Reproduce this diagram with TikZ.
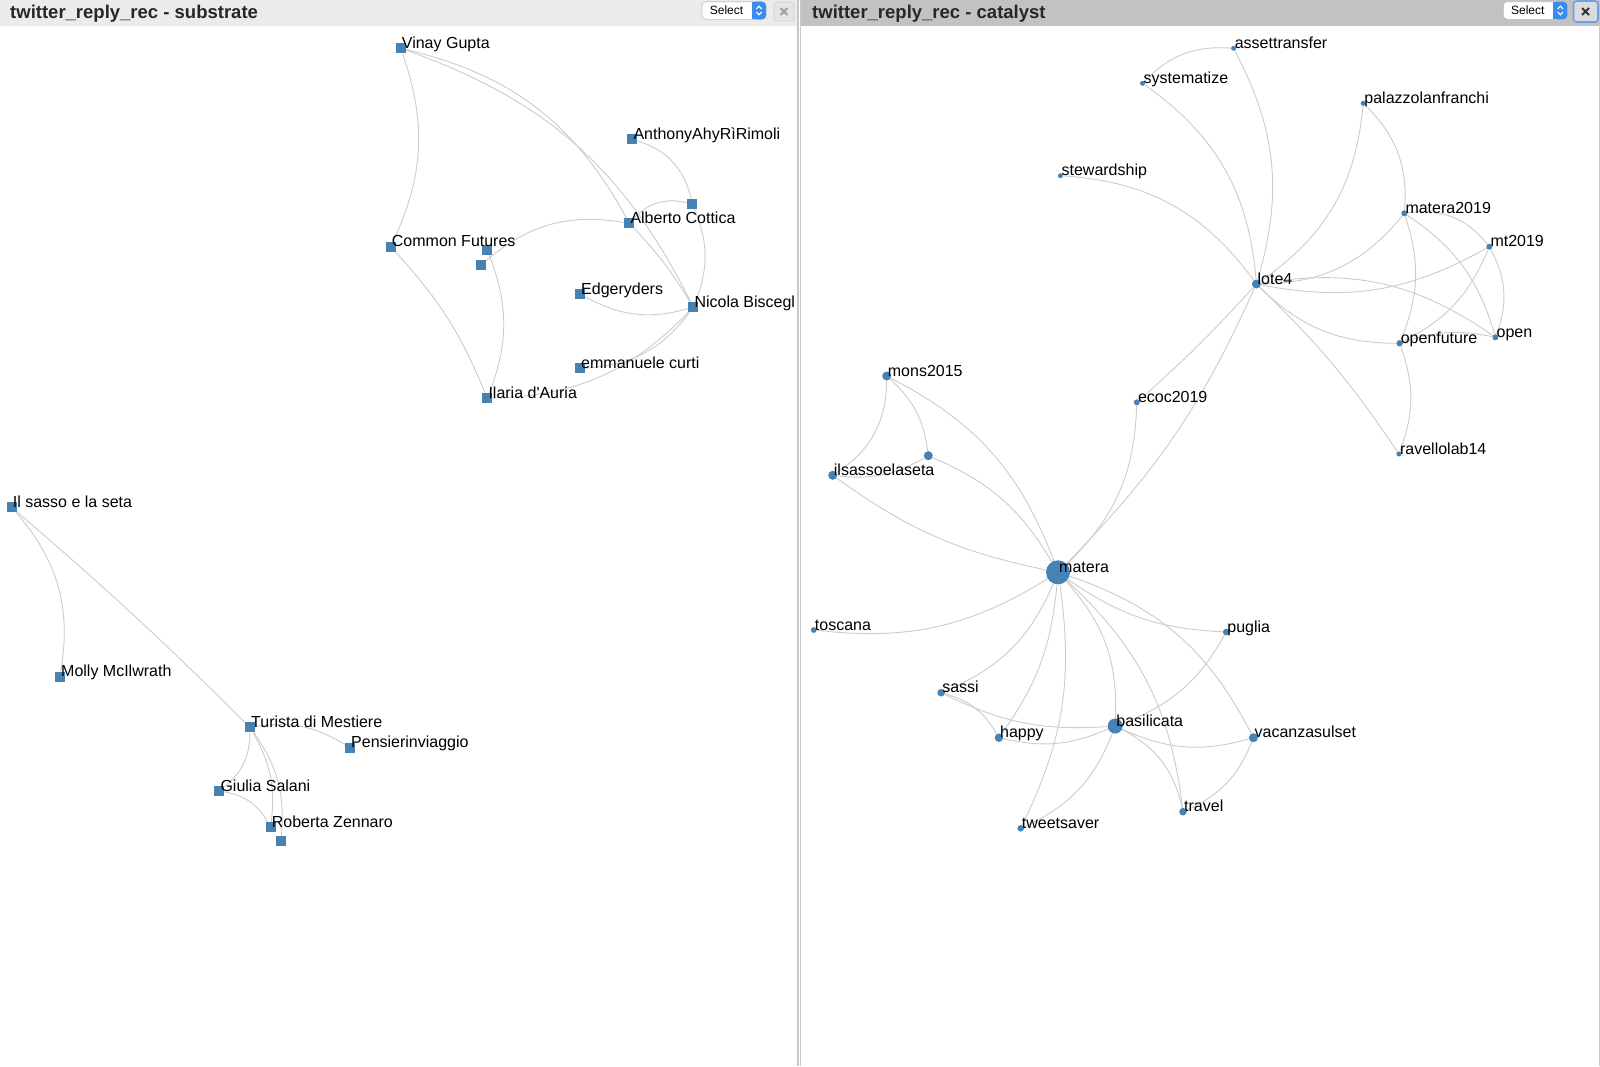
\documentclass[tikz,border=0pt]{standalone}
\usepackage{fontspec}
\setmainfont{Liberation Sans}
\definecolor{nodeblue}{HTML}{4682B4}
\definecolor{edgegrey}{HTML}{CCCCCC}
\definecolor{hdrL}{HTML}{EBEBEB}
\definecolor{hdrR}{HTML}{C2C2C2}
\definecolor{selblue}{HTML}{3A8AF0}
\definecolor{sepgrey}{HTML}{C8C8C8}
\pgfdeclarelayer{back}
\pgfdeclarelayer{edges}
\pgfsetlayers{back,edges,main}
\tikzset{
  sq/.style={rectangle, fill=nodeblue, minimum size=10pt, inner sep=0pt},
  cnode/.style={circle, fill=nodeblue, inner sep=0pt, minimum size=#1},
  lab/.style={anchor=base west, inner sep=0pt, font=\fontsize{16}{19}\selectfont, text=black, xshift=1pt},
  lk/.style={draw=edgegrey, line width=0.9pt},
  ttl/.style={anchor=base west, inner sep=0pt, font=\fontsize{18.5}{21}\selectfont\bfseries, text=black!85},
  seltxt/.style={inner sep=0pt, font=\fontsize{12}{14}\selectfont, text=black},
}
\begin{document}
\begin{tikzpicture}[x=1pt,y=1pt]
\useasboundingbox (0,0) rectangle (1600,-1066);
\begin{pgfonlayer}{back}
\fill[white] (0,0) rectangle (1600,-1066);
\end{pgfonlayer}

% ---------------- substrate nodes ----------------
\node[sq] (VG) at (400.7,-48.3) {};
\node[sq] (AA) at (632.3,-139.3) {};
\node[sq] (S1) at (692.3,-204) {};
\node[sq] (AC) at (629.3,-223.3) {};
\node[sq] (CF) at (390.7,-246.7) {};
\node[sq] (S2) at (487.3,-250) {};
\node[sq] (S3) at (480.7,-265.3) {};
\node[sq] (ED) at (580,-294) {};
\node[sq] (NB) at (693.3,-307.3) {};
\node[sq] (EC) at (580,-368.3) {};
\node[sq] (IA) at (487.3,-398.3) {};
\node[sq] (IS) at (11.7,-507.3) {};
\node[sq] (MM) at (60,-676.7) {};
\node[sq] (TM) at (250,-727.3) {};
\node[sq] (PI) at (350,-747.7) {};
\node[sq] (GS) at (219.3,-791) {};
\node[sq] (RZ) at (270.7,-827.3) {};
\node[sq] (S4) at (281,-840.7) {};

\node[lab] (VGt) at (VG.center) {Vinay Gupta};
\node[lab] (AAt) at (AA.center) {AnthonyAhyRìRimoli};
\node[lab] (ACt) at (AC.center) {Alberto Cottica};
\node[lab] (CFt) at (CF.center) {Common Futures};
\node[lab] (EDt) at (ED.center) {Edgeryders};
\node[lab] (NBt) at (NB.center) {Nicola Biscegl};
\node[lab] (ECt) at (EC.center) {emmanuele curti};
\node[lab] (IAt) at (IA.center) {Ilaria d\textquotesingle Auria};
\node[lab] (ISt) at (IS.center) {Il sasso e la seta};
\node[lab] (MMt) at (MM.center) {Molly McIlwrath};
\node[lab] (TMt) at (TM.center) {Turista di Mestiere};
\node[lab] (PIt) at (PI.center) {Pensierinviaggio};
\node[lab] (GSt) at (GS.center) {Giulia Salani};
\node[lab] (RZt) at (RZ.center) {Roberta Zennaro};

% ---------------- catalyst nodes ----------------
\node[cnode=5pt] (at) at (1233.6,-48.3) {};
\node[cnode=5pt] (sy) at (1142.5,-83.3) {};
\node[cnode=5pt] (pa) at (1363.2,-103.3) {};
\node[cnode=5pt] (st) at (1060.4,-175.7) {};
\node[cnode=6pt] (m19) at (1404.3,-213.3) {};
\node[cnode=6pt] (mt) at (1489.3,-246.7) {};
\node[cnode=9pt] (lo) at (1256.4,-284) {};
\node[cnode=6pt] (op) at (1495.4,-337.3) {};
\node[cnode=6.4pt] (of) at (1399.6,-343.3) {};
\node[cnode=6pt] (ec) at (1136.8,-402.3) {};
\node[cnode=5pt] (ra) at (1398.9,-454) {};
\node[cnode=9pt] (mo) at (886.7,-376) {};
\node[cnode=9pt] (u1) at (928.3,-455.7) {};
\node[cnode=9pt] (il) at (832.7,-475.3) {};
\node[cnode=24pt] (ma) at (1058,-572.3) {};
\node[cnode=5.8pt] (to) at (813.7,-630) {};
\node[cnode=6.6pt] (pu) at (1226.2,-632) {};
\node[cnode=7.6pt] (sa) at (941.1,-692.7) {};
\node[cnode=8.4pt] (ha) at (998.9,-737.7) {};
\node[cnode=15pt] (ba) at (1115.2,-726) {};
\node[cnode=9pt] (va) at (1253.4,-737.7) {};
\node[cnode=7.6pt] (tr) at (1183,-811.7) {};
\node[cnode=6.6pt] (tw) at (1020.7,-828.3) {};

\node[lab] (att) at (at.center) {assettransfer};
\node[lab] (syt) at (sy.center) {systematize};
\node[lab] (pat) at (pa.center) {palazzolanfranchi};
\node[lab] (stt) at (st.center) {stewardship};
\node[lab] (m19t) at (m19.center) {matera2019};
\node[lab] (mtt) at (mt.center) {mt2019};
\node[lab] (lot) at (lo.center) {lote4};
\node[lab] (opt) at (op.center) {open};
\node[lab] (oft) at (of.center) {openfuture};
\node[lab] (ect) at (ec.center) {ecoc2019};
\node[lab] (rat) at (ra.center) {ravellolab14};
\node[lab] (mot) at (mo.center) {mons2015};
\node[lab] (ilt) at (il.center) {ilsassoelaseta};
\node[lab] (mat) at (ma.center) {matera};
\node[lab] (tot) at (to.center) {toscana};
\node[lab] (put) at (pu.center) {puglia};
\node[lab] (sat) at (sa.center) {sassi};
\node[lab] (hat) at (ha.center) {happy};
\node[lab] (bat) at (ba.center) {basilicata};
\node[lab] (vat) at (va.center) {vacanzasulset};
\node[lab] (trt) at (tr.center) {travel};
\node[lab] (twt) at (tw.center) {tweetsaver};

% ---------------- edges ----------------
\begin{pgfonlayer}{edges}
% substrate
\draw[lk] (VG) to[bend left=22] (CF);
\draw[lk] (VG) to[bend left=24] (AC);
\draw[lk] (VG) to[bend left=22] (NB);
\draw[lk] (AC) to[bend left=6] (NB);
\draw[lk] (AA) to[bend left=30] (S1);
\draw[lk] (S1) to[bend right=30] (AC);
\draw[lk] (S1) to[bend left=22] (NB);
\draw[lk] (AC) to[bend right=25] (S3);
\draw[lk] (S2) to[bend left=21] (IA);
\draw[lk] (CF) to[bend left=10] (IA);
\draw[lk] (ED) to[bend right=22] (NB);
\draw[lk] (NB) to[bend left=25] (EC);
\draw[lk] (NB) to[bend left=22] (IA);
\draw[lk] (IS) to[bend left=25] (MM);
\draw[lk] (IS) to[bend left=2] (TM);
\draw[lk] (TM) to[bend left=20] (PI);
\draw[lk] (TM) to[bend left=25] (GS);
\draw[lk] (TM) to[bend left=18] (RZ);
\draw[lk] (TM) to[bend left=20] (S4);
\draw[lk] (GS) to[bend left=25] (RZ);
% catalyst
\draw[lk] (at) to[bend right=25] (sy);
\draw[lk] (at) to[bend left=22] (lo);
\draw[lk] (sy) to[bend left=25] (lo);
\draw[lk] (st) to[bend left=25] (lo);
\draw[lk] (pa) to[bend left=25] (lo);
\draw[lk] (pa) to[bend left=25] (m19);
\draw[lk] (m19) to[bend left=20] (of);
\draw[lk] (m19) to[bend left=25] (lo);
\draw[lk] (m19) to[bend left=30] (mt);
\draw[lk] (m19) to[bend left=20] (op);
\draw[lk] (mt) to[bend left=20] (lo);
\draw[lk] (mt) to[bend left=20] (of);
\draw[lk] (mt) to[bend left=24] (op);
\draw[lk] (lo) to[bend left=22] (op);
\draw[lk] (lo) to[bend right=22] (of);
\draw[lk] (of) to[bend left=15] (op);
\draw[lk] (of) to[bend left=20] (ra);
\draw[lk] (lo) to[bend left=6] (ra);
\draw[lk] (lo) to[bend left=3] (ec);
\draw[lk] (lo) to[bend left=10] (ma);
\draw[lk] (ec) to[bend left=22] (ma);
\draw[lk] (mo) to[bend left=28] (il);
\draw[lk] (mo) to[bend left=20] (u1);
\draw[lk] (mo) to[bend left=21] (ma);
\draw[lk] (u1) to[bend left=18] (il);
\draw[lk] (u1) to[bend left=18] (ma);
\draw[lk] (il) to[bend right=12] (ma);
\draw[lk] (ma) to[bend left=19] (to);
\draw[lk] (ma) to[bend left=22] (sa);
\draw[lk] (ma) to[bend left=15] (ha);
\draw[lk] (ma) to[bend left=17] (tw);
\draw[lk] (ma) to[bend left=22] (ba);
\draw[lk] (ma) to[bend left=20] (tr);
\draw[lk] (ma) to[bend right=16] (pu);
\draw[lk] (ma) to[bend left=22] (va);
\draw[lk] (sa) to[bend right=15] (ba);
\draw[lk] (sa) to[bend left=22] (ha);
\draw[lk] (ha) to[bend right=18] (ba);
\draw[lk] (ba) to[bend right=20] (pu);
\draw[lk] (ba) to[bend right=20] (va);
\draw[lk] (ba) to[bend left=25] (tr);
\draw[lk] (ba) to[bend left=22] (tw);
\draw[lk] (va) to[bend left=22] (tr);
\end{pgfonlayer}

% ---------------- headers and frame ----------------
\fill[hdrL] (0,0) rectangle (797,-26);
\fill[hdrR] (801.3,0) rectangle (1600,-26);
\fill[sepgrey] (797,0) rectangle (798.7,-1066);
\fill[sepgrey] (799.7,0) rectangle (801.3,-1066);
\fill[sepgrey] (1598.8,-22) rectangle (1600,-1066);

\node[ttl] (T1) at (10,-18) {twitter\_reply\_rec - substrate};
\node[ttl] (T2) at (812,-18) {twitter\_reply\_rec - catalyst};

% left select widget
\filldraw[fill=white, draw=black!25, line width=0.6pt, rounded corners=4pt] (702,-1.7) rectangle (766,-19.3);
\fill[selblue, rounded corners=4pt] (752,-1.7) rectangle (766,-19.3);
\fill[selblue] (752,-1.7) rectangle (756,-19.3);
\draw[white, line width=1.1pt] (756.3,-9) -- (759,-6.2) -- (761.7,-9);
\draw[white, line width=1.1pt] (756.3,-12) -- (759,-14.8) -- (761.7,-12);
\node[seltxt] (sel1) at (726.5,-10.5) {Select};
\filldraw[fill=black!10, draw=black!18, line width=0.6pt, rounded corners=2pt] (774,-2) rectangle (794,-21);
\draw[black!38, line width=2pt] (780.5,-8) -- (787.5,-15) (780.5,-15) -- (787.5,-8);

% right select widget
\filldraw[fill=white, draw=black!25, line width=0.6pt, rounded corners=4pt] (1503.3,-1.7) rectangle (1567.3,-19.3);
\fill[selblue, rounded corners=4pt] (1553.3,-1.7) rectangle (1567.3,-19.3);
\fill[selblue] (1553.3,-1.7) rectangle (1557.3,-19.3);
\draw[white, line width=1.1pt] (1557.6,-9) -- (1560.3,-6.2) -- (1563,-9);
\draw[white, line width=1.1pt] (1557.6,-12) -- (1560.3,-14.8) -- (1563,-12);
\node[seltxt] (sel2) at (1527.8,-10.5) {Select};
\filldraw[fill=black!14, draw={rgb,255:red,110;green,160;blue,232}, line width=1.6pt, rounded corners=3pt] (1573.5,-1) rectangle (1598,-22);
\draw[black!80, line width=2pt] (1582,-8) -- (1589,-15) (1582,-15) -- (1589,-8);
\end{tikzpicture}
\end{document}
